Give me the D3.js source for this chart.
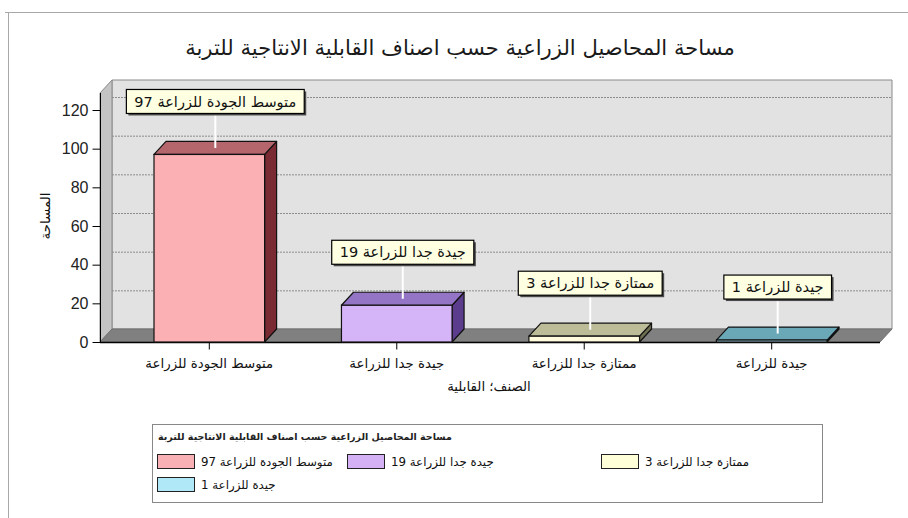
<!DOCTYPE html>
<html>
<head>
<meta charset="utf-8">
<script src="https://cdn.jsdelivr.net/npm/d3@7/dist/d3.min.js"></script>
<style>
  body { margin: 0; background: #fff; }
  svg { display: block; }
  .ar { font-family: "DejaVu Sans", sans-serif; direction: rtl; unicode-bidi: embed; }
</style>
</head>
<body>
<div id="chart"></div>
<script>
var width = 908,
    height = 518;

// data
var title = "مساحة المحاصيل الزراعية حسب اصناف القابلية الانتاجية للتربة";
var categories = ["متوسط الجودة للزراعة", "جيدة جدا للزراعة", "ممتازة جدا للزراعة", "جيدة للزراعة"];
var values = [97, 19, 3, 1];
var yTicks = [0, 20, 40, 60, 80, 100, 120];
var yTitle = "المساحة";
var xTitle = "الصنف؛ القابلية";

var frontColors = ["#fbb0b4", "#d6b4f8", "#fffbdc", "#a8e2f2"];
var topColors = ["#b4666c", "#9474c4", "#bcbc98", "#6aa8b8"];
var sideColors = ["#7a2a32", "#5c3c8c", "#6e6e50", "#3c6c7a"];
var legendColors = ["#f8b0b4", "#d4b0f4", "#ffffd8", "#b0e8f8"];

// 3d depth offset
var dx = 12, dy = -13;

var svg = d3.select("#chart").append("svg")
    .attr("width", width)
    .attr("height", height);

function fitText(sel, w) {
  var l = sel.node().getComputedTextLength();
  var fs = parseFloat(sel.attr("font-size"));
  sel.attr("font-size", fs * w / l);
  return fs * w / l;
}

// outer frame
svg.append("path")
    .attr("d", "M5,12.5H908M8.5,12V518")
    .attr("fill", "none")
    .attr("stroke", "#a8a8a8");

var y = d3.scaleLinear()
    .domain([0, 120])
    .range([342, 110]);

var x = d3.scaleBand()
    .domain(categories)
    .range([154, 827])
    .paddingInner(0.41)
    .paddingOuter(0);

var x0 = 100, x1 = 880, y0 = y(0), yTop = 93;

// walls
svg.append("polygon")
    .attr("points", [[x0 + dx, yTop + dy], [892, yTop + dy], [892, y0 + dy], [x0 + dx, y0 + dy]].join(" "))
    .attr("fill", "#e2e2e2")
    .attr("stroke", "#8a8a8a");

svg.append("polygon")
    .attr("points", [[x0, yTop], [x0 + dx, yTop + dy], [x0 + dx, y0 + dy], [x0, y0]].join(" "))
    .attr("fill", "#c4c4c4")
    .attr("stroke", "#8a8a8a");

svg.append("polygon")
    .attr("points", [[x0, y0], [x0 + dx, y0 + dy], [892, y0 + dy], [x1, y0]].join(" "))
    .attr("fill", "#808080")
    .attr("stroke", "#707070");

// grid lines on back wall
svg.append("g").selectAll("line")
    .data(yTicks.filter(function(d) { return d > 0; }))
    .enter().append("line")
    .attr("x1", x0 + dx)
    .attr("x2", 891)
    .attr("y1", function(d) { return y(d) + dy + 0.5; })
    .attr("y2", function(d) { return y(d) + dy + 0.5; })
    .attr("stroke", "#8c8c8c")
    .attr("stroke-dasharray", "2,1");

// axis lines
svg.append("line")
    .attr("x1", x0 + 0.5).attr("x2", x0 + 0.5)
    .attr("y1", yTop).attr("y2", y0)
    .attr("stroke", "#000");
svg.append("line")
    .attr("x1", x0).attr("x2", x1)
    .attr("y1", y0 + 0.5).attr("y2", y0 + 0.5)
    .attr("stroke", "#000").attr("stroke-width", 1.5);

var yAxis = svg.append("g")
    .attr("transform", "translate(" + (x0 + 0.5) + ",0)")
    .call(d3.axisLeft(y).tickValues(yTicks).tickSize(8).tickSizeOuter(0).tickPadding(4));
yAxis.select(".domain").remove();
yAxis.selectAll("text")
    .attr("font-family", "Liberation Sans, Arial, sans-serif")
    .attr("font-size", 16)
    .attr("fill", "#222");

var xAxis = svg.append("g")
    .attr("transform", "translate(0," + (y0 + 0.5) + ")")
    .call(d3.axisBottom(x).tickSize(7).tickSizeOuter(0).tickPadding(9));
xAxis.select(".domain").remove();
var catText = xAxis.selectAll("text")
    .attr("class", "ar")
    .attr("font-family", null)
    .attr("font-size", 13)
    .attr("fill", "#111");
var catSize = fitText(d3.select(catText.node()), 128);
catText.attr("font-size", catSize);

// bars
var bars = svg.append("g").selectAll("g")
    .data(values)
    .enter().append("g");

bars.append("polygon")
    .attr("points", function(d, i) {
      var a = x(categories[i]), b = a + x.bandwidth(), t = y(d);
      return [[b, t], [b + dx, t + dy], [b + dx, y0 + dy], [b, y0]].join(" ");
    })
    .attr("fill", function(d, i) { return sideColors[i]; })
    .attr("stroke", "#111")
    .attr("stroke-width", 1.2)
    .attr("stroke-linejoin", "round");

bars.append("polygon")
    .attr("points", function(d, i) {
      var a = x(categories[i]), b = a + x.bandwidth(), t = y(d);
      return [[a, t], [a + dx, t + dy], [b + dx, t + dy], [b, t]].join(" ");
    })
    .attr("fill", function(d, i) { return topColors[i]; })
    .attr("stroke", "#111")
    .attr("stroke-width", 1.2)
    .attr("stroke-linejoin", "round");

bars.append("rect")
    .attr("x", function(d, i) { return x(categories[i]); })
    .attr("y", function(d) { return y(d); })
    .attr("width", x.bandwidth())
    .attr("height", function(d) { return y0 - y(d); })
    .attr("fill", function(d, i) { return frontColors[i]; })
    .attr("stroke", "#111")
    .attr("stroke-width", 1.2);

// data labels with callout lines
var labSize = null;
bars.each(function(d, i) {
  var g = d3.select(this);
  var cx = x(categories[i]) + x.bandwidth() / 2 + dx / 2;
  var t = y(d);
  var boxBottom = t + dy - 28;
  g.append("line")
      .attr("x1", cx).attr("x2", cx)
      .attr("y1", boxBottom).attr("y2", t + dy / 2)
      .attr("stroke", "#fff")
      .attr("stroke-width", 2);
  var txt = g.append("text")
      .attr("class", "ar")
      .attr("x", cx)
      .attr("y", boxBottom - 12)
      .attr("dy", "0.35em")
      .attr("text-anchor", "middle")
      .attr("font-size", 13)
      .attr("fill", "#111")
      .text(categories[i] + " " + d);
  if (labSize === null) labSize = fitText(txt, 162);
  txt.attr("font-size", labSize);
  var w = txt.node().getComputedTextLength() + 16;
  g.insert("rect", "text")
      .attr("x", cx - w / 2 + 2).attr("y", boxBottom - 24 + 2)
      .attr("width", w).attr("height", 24)
      .attr("fill", "#4a4a4a");
  g.insert("rect", "text")
      .attr("x", cx - w / 2).attr("y", boxBottom - 24)
      .attr("width", w).attr("height", 24)
      .attr("fill", "#ffffe1")
      .attr("stroke", "#000")
      .attr("stroke-width", 1.2);
});

// titles
var tt = svg.append("text")
    .attr("class", "ar")
    .attr("x", 460)
    .attr("y", 48)
    .attr("dy", "0.35em")
    .attr("text-anchor", "middle")
    .attr("font-size", 18)
    .attr("fill", "#1a1a1a")
    .text(title);
fitText(tt, 550);

svg.append("text")
    .attr("class", "ar")
    .attr("transform", "translate(45,216)rotate(-90)")
    .attr("dy", "0.35em")
    .attr("text-anchor", "middle")
    .attr("font-size", catSize)
    .attr("fill", "#111")
    .text(yTitle);

svg.append("text")
    .attr("class", "ar")
    .attr("x", 489)
    .attr("y", 386)
    .attr("dy", "0.35em")
    .attr("text-anchor", "middle")
    .attr("font-size", catSize)
    .attr("fill", "#111")
    .text(xTitle);

// legend
var legend = svg.append("g");
legend.append("rect")
    .attr("x", 152.5).attr("y", 424.5)
    .attr("width", 670).attr("height", 78)
    .attr("fill", "#fff")
    .attr("stroke", "#888");

var lt = legend.append("text")
    .attr("class", "ar")
    .attr("y", 437)
    .attr("dy", "0.35em")
    .attr("text-anchor", "middle")
    .attr("font-size", 9.5)
    .attr("font-weight", "bold")
    .attr("fill", "#222")
    .text(title);
lt.attr("x", 158 + lt.node().getComputedTextLength() / 2);

var legendPos = [[157, 462], [347, 462], [601, 462], [157, 485]];
var legSize = null;
var items = legend.selectAll("g.item")
    .data(values)
    .enter().append("g")
    .attr("class", "item")
    .attr("transform", function(d, i) { return "translate(" + legendPos[i][0] + "," + legendPos[i][1] + ")"; });

items.append("rect")
    .attr("x", 0.5).attr("y", -7.5)
    .attr("width", 37).attr("height", 14)
    .attr("fill", function(d, i) { return legendColors[i]; })
    .attr("stroke", "#222");

items.each(function(d, i) {
  var t = d3.select(this).append("text")
      .attr("class", "ar")
      .attr("y", 0)
      .attr("dy", "0.35em")
      .attr("text-anchor", "middle")
      .attr("font-size", 12)
      .attr("fill", "#111")
      .text(categories[i] + " " + d);
  if (legSize === null) legSize = fitText(t, 132);
  t.attr("font-size", legSize);
  var w = t.node().getComputedTextLength();
  t.attr("x", 44 + w / 2);
});
</script>
</body>
</html>
